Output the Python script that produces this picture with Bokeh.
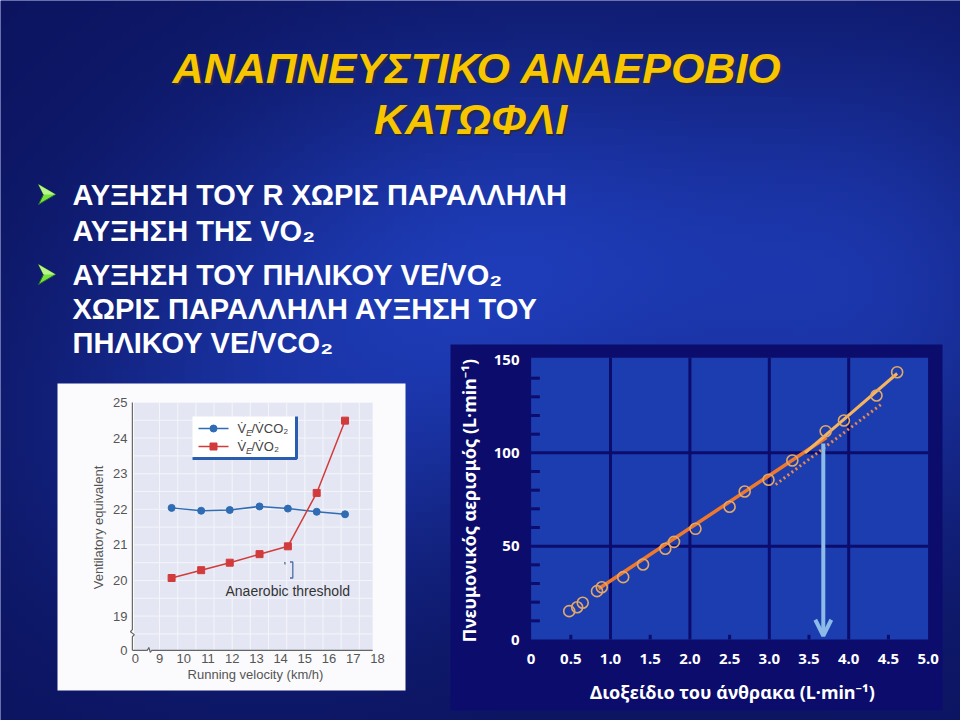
import numpy as np
from bokeh.plotting import figure
from bokeh.models import Range1d, Arrow, OpenHead
from bokeh.core.properties import value
from bokeh.embed import file_html
from bokeh.resources import INLINE

# ---------------- data ----------------
title_lines = ["ΑΝΑΠΝΕΥΣΤΙΚΟ ΑΝΑΕΡΟΒΙΟ", "ΚΑΤΩΦΛΙ"]
bullet_lines = ["ΑΥΞΗΣΗ ΤΟΥ R ΧΩΡΙΣ ΠΑΡΑΛΛΗΛΗ",
                "ΑΥΞΗΣΗ ΤΗΣ VO₂",
                "ΑΥΞΗΣΗ ΤΟΥ ΠΗΛΙΚΟΥ VE/VO₂",
                "ΧΩΡΙΣ ΠΑΡΑΛΛΗΛΗ ΑΥΞΗΣΗ ΤΟΥ",
                "ΠΗΛΙΚΟΥ VE/VCO₂"]

# left chart: ventilatory equivalents vs running velocity
speed = [9.5, 10.72, 11.9, 13.13, 14.3, 15.49, 16.66]
ve_vco2 = [22.04, 21.96, 21.98, 22.08, 22.02, 21.93, 21.86]
ve_vo2 = [20.07, 20.29, 20.50, 20.74, 20.96, 22.46, 24.49]
left_xticks = [8.0, 9, 10, 11, 12, 13, 14, 15, 16, 17, 18]
left_xlabels = ["0", "9", "10", "11", "12", "13", "14", "15", "16", "17", "18"]
left_yticks = [18.04, 19, 20, 21, 22, 23, 24, 25]
left_ylabels = ["0", "19", "20", "21", "22", "23", "24", "25"]

# right chart: ventilation vs CO2
co2 = [0.48, 0.58, 0.65, 0.83, 0.89, 1.16, 1.41, 1.69, 1.80, 2.07,
       2.50, 2.69, 2.99, 3.29, 3.71, 3.94, 4.35, 4.61]
vent = [15.2, 17.3, 19.7, 25.9, 28.0, 33.4, 40.2, 48.6, 52.3, 59.3,
        71.1, 79.3, 85.6, 95.9, 111.6, 117.3, 130.7, 143.2]
fit1_x = [0.85, 3.72]
fit1_y = [27.2, 108.2]
fit2_x = [3.45, 4.61]
fit2_y = [100.0, 142.5]
dot_x = [3.08, 4.42]
dot_y = [83.0, 126.3]
threshold_x = 3.68
threshold_y = 105.0
right_xticks = [0, 0.5, 1.0, 1.5, 2.0, 2.5, 3.0, 3.5, 4.0, 4.5, 5.0]
right_xlabels = ["0", "0.5", "1.0", "1.5", "2.0", "2.5", "3.0", "3.5", "4.0", "4.5", "5.0"]
right_yticks = [0, 50, 100, 150]
right_ylabels = ["0", "50", "100", "150"]

# ---------------- figure ----------------
W, H = 960, 720
p = figure(width=W, height=H, x_range=Range1d(0, W), y_range=Range1d(H, 0),
           output_backend="svg", toolbar_location=None, min_border=0,
           x_axis_location=None, y_axis_location=None)
p.grid.visible = False
p.outline_line_color = None
p.background_fill_color = "#12208a"
p.border_fill_color = "#12208a"


def xr(d0, p0, d1, p1):
    k = (p1 - p0) / (d1 - d0)
    s = d0 - p0 / k
    return Range1d(s, s + W / k)


def yr(d0, p0, d1, p1):
    k = (p0 - p1) / (d1 - d0)
    s = d0 - (H - p0) / k
    return Range1d(s, s + H / k)


p.extra_x_ranges = {"lx": xr(9, 159, 18, 377), "rx": xr(0, 530.6, 5, 927.6)}
p.extra_y_ranges = {"ly": yr(20, 580, 25, 402), "ry": yr(0, 639, 150, 359)}

# background texture (smooth gradient)
gh, gw = 90, 120
yy, xx = np.mgrid[0:gh, 0:gw]
sx = xx / gw * W
sy = yy / gh * H
f = (0.75 * np.exp(-(((sx - 520) / 330) ** 2 + ((sy - 260) / 220) ** 2))
     + 0.45 * np.exp(-(((sx - 900) / 200) ** 2 + ((sy - 300) / 260) ** 2))
     + 0.35 * np.exp(-(((sx - 250) / 250) ** 2 + ((sy - 450) / 200) ** 2)))
f = np.clip(f, 0, 1)
dark = np.array([12, 20, 95])
bright = np.array([35, 70, 205])
img = np.empty((gh, gw), dtype=np.uint32)
view = img.view(dtype=np.uint8).reshape((gh, gw, 4))
for c in range(3):
    view[:, :, c] = (dark[c] + (bright[c] - dark[c]) * f).astype(np.uint8)
view[:, :, 3] = 255
p.image_rgba(image=[img], x=0, y=0, dw=W, dh=H)

# ---------------- title ----------------
title_y = [67.5, 118]
title_x = [477, 470]
p.text(x=[v + 2 for v in title_x], y=[v + 2 for v in title_y], text=title_lines,
       text_font=value("Liberation Sans"), text_font_style="bold italic",
       text_font_size="43px", text_color="#2a2a40", text_align="center",
       text_baseline="middle")
p.text(x=title_x, y=title_y, text=title_lines,
       text_font=value("Liberation Sans"), text_font_style="bold italic",
       text_font_size="43px", text_color="#f7c600", text_align="center",
       text_baseline="middle")

# ---------------- bullets ----------------
bullet_y = [194.5, 230, 274, 308, 342]
p.text(x=[72] * 5, y=bullet_y, text=bullet_lines,
       text_font=value("Liberation Sans"), text_font_style="bold",
       text_font_size="29px", text_color="#ffffff", text_align="left",
       text_baseline="middle")
arrow_x = [38, 38]
arrow_y = [194, 274]
shape_dx = [0, 17, 0, 5]
shape_dy = [-10, 0, 10, 0]
p.patches(xs=[[ax + d for d in shape_dx] for ax in arrow_x],
          ys=[[ay + d for d in shape_dy] for ay in arrow_y],
          fill_color="#74e23c", line_color="#2c6a2a", line_width=1)
p.patches(xs=[[ax + d for d in [0, 17, 5]] for ax in arrow_x],
          ys=[[ay + d for d in [-10, 0, 0]] for ay in arrow_y],
          fill_color="#b8f58a", line_color=None)

# ---------------- left chart ----------------
p.quad(left=[57], right=[405], top=[383], bottom=[690], fill_color="#fbfbfd",
       line_color=None)
lkw = dict(x_range_name="lx", y_range_name="ly")
p.quad(left=[7.95], right=[17.8], bottom=[18.05], top=[25], fill_color="#e4e7f3",
       line_color=None, **lkw)
gx = [9 + 0.75 * i for i in range(12)]
p.multi_line(xs=[[v, v] for v in gx], ys=[[18.05, 25]] * len(gx),
             line_color="#f4f5fa", line_width=1, **lkw)
gy = [18.5 + 0.5 * i for i in range(14)]
p.multi_line(xs=[[7.95, 17.8]] * len(gy), ys=[[v, v] for v in gy],
             line_color="#f4f5fa", line_width=1, **lkw)
# axes with break marks
p.line(x=[7.88, 7.88, 7.80, 7.96, 7.88, 7.88],
       y=[25, 18.62, 18.56, 18.48, 18.42, 18.04],
       line_color="#666666", line_width=1.2, **lkw)
p.line(x=[7.88, 8.5, 8.56, 8.62, 8.68, 17.8],
       y=[18.04, 18.04, 18.12, 17.98, 18.04, 18.04],
       line_color="#666666", line_width=1.2, **lkw)
p.text(x=[127] * len(left_yticks), y=left_yticks, text=left_ylabels,
       y_range_name="ly", text_font=value("Liberation Sans"),
       text_font_size="13px", text_color="#555555", text_align="right",
       text_baseline="middle")
p.text(x=left_xticks, y=[658] * len(left_xticks), text=left_xlabels,
       x_range_name="lx", text_font=value("Liberation Sans"),
       text_font_size="13px", text_color="#555555", text_align="center",
       text_baseline="middle")
p.text(x=[98], y=[527], text=["Ventilatory equivalent"], angle=np.pi / 2,
       text_font=value("Liberation Sans"), text_font_size="13px",
       text_color="#555555", text_align="center", text_baseline="middle")
p.text(x=[255], y=[674], text=["Running velocity (km/h)"],
       text_font=value("Liberation Sans"), text_font_size="13px",
       text_color="#555555", text_align="center", text_baseline="middle")
# series
p.line(x=speed, y=ve_vco2, line_color="#2f6cb3", line_width=1.5, **lkw)
p.scatter(x=speed, y=ve_vco2, marker="circle", size=7, fill_color="#2f6cb3",
          line_color="#2f6cb3", **lkw)
p.line(x=speed, y=ve_vo2, line_color="#d23b3b", line_width=1.5, **lkw)
p.scatter(x=speed, y=ve_vo2, marker="square", size=7, fill_color="#d23b3b",
          line_color="#d23b3b", **lkw)
# legend
p.quad(left=[192], right=[296], top=[416], bottom=[458], fill_color="#ffffff",
       line_color=None)
p.line(x=[192, 296, 296], y=[458, 458, 416], line_color="#2a5db0", line_width=3)
p.line(x=[198, 228], y=[428, 428], line_color="#2f6cb3", line_width=1.5)
p.scatter(x=[213], y=[428], marker="circle", size=7, fill_color="#2f6cb3",
          line_color="#2f6cb3")
p.line(x=[198, 228], y=[446, 446], line_color="#d23b3b", line_width=1.5)
p.scatter(x=[213], y=[446], marker="square", size=7, fill_color="#d23b3b",
          line_color="#d23b3b")
leg_font = dict(text_font=value("Liberation Sans"), text_color="#444444",
                text_align="left", text_baseline="middle")
p.text(x=[237, 237], y=[428, 446], text=["V̇", "V̇"], text_font_size="13px", **leg_font)
p.text(x=[245.5, 245.5], y=[432, 450], text=["E", "E"], text_font_size="9px",
       text_font_style="italic", **leg_font)
p.text(x=[251, 251], y=[428, 446], text=["/V̇CO₂", "/V̇O₂"], text_font_size="13px",
       **leg_font)
# anaerobic threshold annotation
p.multi_line(xs=[[289.5, 292.3, 292.3, 289.5], [284.3, 284.6]],
             ys=[[561.5, 561.5, 577.5, 577.5], [561.5, 564]],
             line_color="#4a6ea8", line_width=1.3)
p.text(x=[225], y=[590], text=["Anaerobic threshold"],
       text_font=value("Liberation Sans"), text_font_size="14px",
       text_color="#333333", text_align="left", text_baseline="middle")

# ---------------- right chart ----------------
p.quad(left=[450], right=[942], top=[344], bottom=[710], fill_color="#0b0c6c",
       line_color=None)
rkw = dict(x_range_name="rx", y_range_name="ry")
p.quad(left=[0], right=[5], bottom=[0], top=[151], fill_color="#1b3db0",
       line_color=None, **rkw)
vg = [1, 2, 3, 4]
p.multi_line(xs=[[v, v] for v in vg], ys=[[0, 151]] * 4, line_color="#0b0c6c",
             line_width=3, **rkw)
hg = [50, 100]
p.multi_line(xs=[[0, 5]] * 2, ys=[[v, v] for v in hg], line_color="#0b0c6c",
             line_width=3, **rkw)
ymin = [v for v in range(10, 150, 10) if v % 50]
p.multi_line(xs=[[0, 0.11]] * len(ymin), ys=[[v, v] for v in ymin],
             line_color="#0b0c6c", line_width=3, **rkw)
xmin = [0.5, 1.5, 2.5, 3.5, 4.5]
p.multi_line(xs=[[v, v] for v in xmin], ys=[[0, 2.5]] * len(xmin),
             line_color="#0b0c6c", line_width=3, **rkw)
# fits
p.line(x=dot_x, y=dot_y, line_color="#e8884a", line_width=3, line_dash="2 3", **rkw)
p.line(x=fit1_x, y=fit1_y, line_color="#f0782a", line_width=3.5, **rkw)
p.line(x=fit2_x, y=fit2_y, line_color="#f6b45e", line_width=3, **rkw)
p.scatter(x=co2, y=vent, marker="circle", size=11, fill_color=None,
          line_color="#e2a868", line_width=1.6, **rkw)
# threshold arrow
p.add_layout(Arrow(x_start=threshold_x, y_start=threshold_y, x_end=threshold_x, y_end=2,
                   line_color="#8dbbe8", line_width=4,
                   end=OpenHead(size=16, line_color="#8dbbe8", line_width=4),
                   x_range_name="rx", y_range_name="ry"))
# ticks / labels
p.text(x=[519] * 4, y=right_yticks, text=right_ylabels, y_range_name="ry",
       text_font=value("Noto Sans"), text_font_style="bold", text_font_size="15px",
       text_color="#ffffff", text_align="right", text_baseline="middle")
p.text(x=right_xticks, y=[658] * len(right_xticks), text=right_xlabels,
       x_range_name="rx", text_font=value("Noto Sans"), text_font_style="bold",
       text_font_size="15px", text_color="#ffffff", text_align="center",
       text_baseline="middle")
p.text(x=[732], y=[691], text=["Διοξείδιο του άνθρακα (L·min⁻¹)"],
       text_font=value("Noto Sans"), text_font_style="bold", text_font_size="18px",
       text_color="#ffffff", text_align="center", text_baseline="middle")
p.text(x=[468], y=[500], text=["Πνευμονικός αερισμός (L·min⁻¹)"], angle=np.pi / 2,
       text_font=value("Noto Sans"), text_font_style="bold", text_font_size="18px",
       text_color="#ffffff", text_align="center", text_baseline="middle")

open("out.html", "w").write(file_html(p, INLINE))
